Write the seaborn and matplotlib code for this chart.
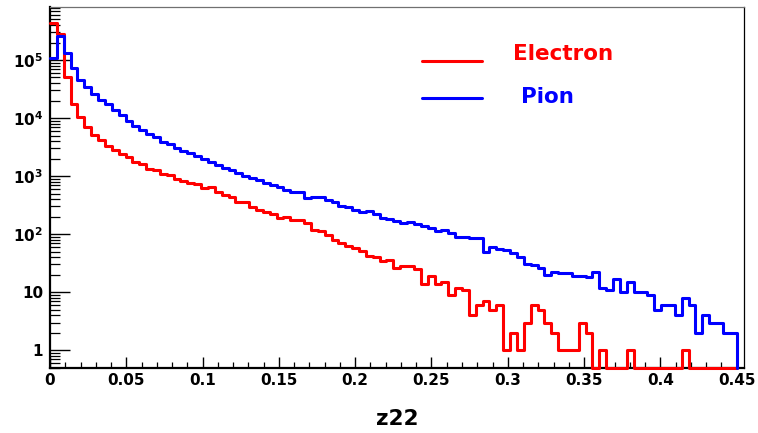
import numpy as np
import pandas as pd
import matplotlib
matplotlib.use("Agg")
import matplotlib.pyplot as plt
from matplotlib.lines import Line2D
from matplotlib.transforms import Affine2D
from matplotlib.ticker import FixedLocator, FixedFormatter, NullFormatter
import seaborn as sns

# Histogram binning of the z22 variable
z22_min = 0.0
z22_max = 0.45
n_bins = 100

# Entries per bin (electrons)
electron_counts = [
    429000, 281000, 50400, 17500, 10600, 6900, 5110, 4190, 3300, 2820,
    2400, 2160, 1770, 1620, 1310, 1270, 1090, 1040, 900, 824,
    752, 725, 617, 658, 537, 473, 431, 363, 352, 295,
    257, 245, 219, 190, 197, 178, 173, 158, 120, 112,
    97, 79, 71, 62, 58, 51, 42, 40, 35, 36,
    26, 28, 28, 25, 14, 19, 14, 15, 9, 12,
    11, 4, 6, 7, 5, 6, 1, 2, 1, 3,
    6, 5, 3, 2, 1, 1, 1, 3, 2, 0,
    1, 0, 0, 0, 1, 0, 0, 0, 0, 0,
    0, 0, 1, 0, 0, 0, 0, 0, 0, 0,
]

# Entries per bin (pions)
pion_counts = [
    107000, 259000, 134000, 72000, 45300, 33900, 25900, 20500, 17500, 13800,
    11300, 9020, 7300, 6220, 5310, 4780, 3920, 3570, 3090, 2740,
    2470, 2220, 1950, 1770, 1560, 1360, 1270, 1120, 1010, 933,
    841, 759, 692, 661, 585, 538, 522, 423, 443, 429,
    394, 352, 309, 288, 261, 240, 249, 221, 193, 185,
    167, 154, 163, 149, 137, 126, 112, 117, 105, 88,
    90, 87, 85, 50, 61, 55, 54, 47, 40, 30,
    29, 26, 20, 22, 21, 21, 19, 19, 18, 22,
    12, 11, 17, 10, 15, 10, 10, 9, 5, 6,
    6, 4, 8, 6, 2, 4, 3, 3, 2, 2,
]

series_names = ["Electron", "Pion"]
series_colors = ["#ff0000", "#0000ff"]

x_ticks = [0, 0.05, 0.1, 0.15, 0.2, 0.25, 0.3, 0.35, 0.4, 0.45]
x_tick_labels = ["0", "0.05", "0.1", "0.15", "0.2", "0.25", "0.3", "0.35", "0.4", "0.45"]
y_ticks = [1, 10, 100, 1000, 10000, 100000]
y_tick_labels = ["1", "10", r"$10^{2}$", r"$10^{3}$", r"$10^{4}$", r"$10^{5}$"]

x_label = "z22"

# Axis ranges
x_lim = (0.0, 0.4548)
y_lim = (0.5, 8.28e5)

sns.set_theme(style="ticks")
plt.rcParams["font.family"] = ["DejaVu Sans"]
plt.rcParams["font.weight"] = "bold"
plt.rcParams["mathtext.fontset"] = "dejavusans"
plt.rcParams["mathtext.default"] = "bf"

edges = np.linspace(z22_min, z22_max, n_bins + 1)


def outline(counts):
    """Step outline of a histogram; empty bins sit on the lower frame,
    and the last bin closes down to the frame."""
    c = np.clip(np.asarray(counts, dtype=float), y_lim[0], None)
    x = np.concatenate([edges[:-1], [edges[-1], edges[-1]]])
    y = np.concatenate([c, [c[-1], y_lim[0]]])
    return x, y


frames = []
for name, counts in zip(series_names, [electron_counts, pion_counts]):
    x, y = outline(counts)
    frames.append(pd.DataFrame({"z22": x, "entries": y, "particle": name}))
df = pd.concat(frames, ignore_index=True)

W, H = 758, 433
fig = plt.figure(figsize=(W / 100, H / 100), dpi=100)
ax = fig.add_axes([50 / W, 1 - 367.7 / H, 694 / W, (367.7 - 6.7) / H])

sns.lineplot(
    data=df, x="z22", y="entries", hue="particle",
    palette=dict(zip(series_names, series_colors)),
    estimator=None, sort=False, drawstyle="steps-post",
    linewidth=2.2, legend=False, ax=ax, clip_on=False, zorder=3,
)

ax.set_yscale("log")
ax.set_xlim(*x_lim)
ax.set_ylim(*y_lim)

# ROOT-like axes: ticks drawn inside the frame
ax.xaxis.set_major_locator(FixedLocator(x_ticks))
ax.xaxis.set_major_formatter(FixedFormatter(x_tick_labels))
ax.xaxis.set_minor_locator(FixedLocator(np.round(np.arange(0, 0.451, 0.01), 3)))
ax.yaxis.set_major_locator(FixedLocator(y_ticks))
ax.yaxis.set_major_formatter(FixedFormatter(y_tick_labels))
y_minor = [m * 10.0 ** k for k in range(-1, 6) for m in range(2, 10)]
y_minor = [v for v in y_minor if y_lim[0] <= v <= y_lim[1]]
ax.yaxis.set_minor_locator(FixedLocator(y_minor))
ax.yaxis.set_minor_formatter(NullFormatter())

ax.tick_params(axis="y", which="major", direction="in", length=14.5, width=1.0,
               pad=5, labelsize=11, colors="black")
ax.tick_params(axis="y", which="minor", direction="in", length=7.2, width=0.9,
               colors="black")
ax.tick_params(axis="x", which="major", direction="in", length=8, width=1.0,
               pad=4, labelsize=11, colors="black")
ax.tick_params(axis="x", which="minor", direction="in", length=4.3, width=0.9,
               colors="black")
for lbl in ax.get_xticklabels() + ax.get_yticklabels():
    lbl.set_fontweight("bold")

for side in ["left", "bottom"]:
    ax.spines[side].set_linewidth(1.6)
    ax.spines[side].set_color("black")
ax.spines["right"].set_linewidth(0.9)
ax.spines["right"].set_color("black")
ax.spines["top"].set_linewidth(0.9)
ax.spines["top"].set_color("#707070")

ax.set_xlabel(x_label, fontsize=15.5, fontweight="bold", labelpad=15, color="black")
ax.set_ylabel("")

handles = [Line2D([], [], color=c, linewidth=2.2) for c in series_colors]
leg = fig.legend(
    handles, series_names, loc="upper left",
    bbox_to_anchor=(411 / W, 1 - 42 / H), frameon=False,
    prop={"size": 15.5, "weight": "bold"}, labelcolor="linecolor",
    handlelength=2.8, handletextpad=1.45, labelspacing=0.8, borderpad=0,
)
# ROOT places the entry labels slightly above their line samples
for txt, (dx, dy) in zip(leg.get_texts(), [(0, 9), (8, 3)]):
    txt.set_transform(txt.get_transform() + Affine2D().translate(dx, dy))

fig.savefig("out.png", dpi=100)
